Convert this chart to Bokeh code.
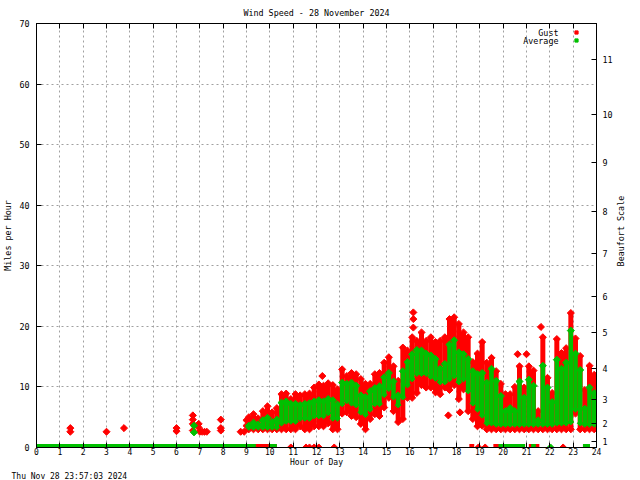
import math
from bokeh.plotting import figure
from bokeh.layouts import row
from bokeh.core.properties import value
from bokeh.models import (FixedTicker, LinearAxis, Range1d, Legend, LegendItem,
                          Label, Title)
from bokeh.embed import file_html
from bokeh.resources import INLINE

# ---------------- data ----------------
hour_ticks = [0, 1, 2, 3, 4, 5, 6, 7, 8, 9, 10, 11, 12, 13, 14, 15, 16, 17, 18,
              19, 20, 21, 22, 23, 24]
mph_ticks = [0, 10, 20, 30, 40, 50, 60, 70]
beaufort_mph = [1, 4, 8, 13, 19, 25, 32, 39, 47, 55, 64]
beaufort_labels = ["1", "2", "3", "4", "5", "6", "7", "8", "9", "10", "11"]

# 12-minute slots: envelope of the readings in each slot
slot_hour = [9.1, 9.3, 9.5, 9.7, 9.9, 10.1, 10.3, 10.5, 10.7, 10.9, 11.1, 11.3,
             11.5, 11.7, 11.9, 12.1, 12.3, 12.5, 12.7, 12.9, 13.1, 13.3, 13.5,
             13.7, 13.9, 14.1, 14.3, 14.5, 14.7, 14.9, 15.1, 15.3, 15.5, 15.7,
             15.9, 16.1, 16.3, 16.5, 16.7, 16.9, 17.1, 17.3, 17.5, 17.7, 17.9,
             18.1, 18.3, 18.5, 18.7, 18.9, 19.1, 19.3, 19.5, 19.7, 19.9, 20.1,
             20.3, 20.5, 20.7, 20.9, 21.1, 21.3, 21.5, 21.7, 21.9, 22.1, 22.3,
             22.5, 22.7, 22.9, 23.1, 23.3, 23.5, 23.7, 23.9]
gust_hi = [5.0, 5.5, 4.8, 6.0, 6.8, 5.8, 6.5, 8.8, 8.9, 8.0, 8.8, 8.6,
           8.8, 8.9, 9.9, 10.4, 10.2, 10.6, 10.3, 9.6, 12.9, 11.8, 12.3,
           12.1, 11.3, 10.5, 10.5, 12.1, 12.3, 14.0, 14.9, 13.4, 11.0, 16.5,
           16.0, 18.2, 17.6, 19.0, 17.6, 18.2, 17.4, 17.6, 18.2, 21.2, 21.5,
           20.4, 19.0, 18.2, 14.1, 15.5, 17.4, 14.0, 14.8, 12.6, 10.5, 8.8,
           8.8, 10.0, 13.4, 9.9, 13.4, 12.7, 6.0, 18.2, 11.5, 9.0, 17.9,
           15.6, 16.4, 22.2, 18.0, 15.1, 9.5, 13.5, 12.0]
gust_lo = [3, 3, 3, 3, 3, 3, 3, 3, 3, 3, 3, 3.5,
           3, 3, 3.5, 3.5, 3.5, 4, 3, 3, 5.6, 5.8, 5.2,
           5.0, 3.9, 3.0, 4.7, 5.5, 5.2, 6.6, 8.2, 6.0, 4.2, 4.7,
           8.2, 8.2, 9.0, 10.3, 9.9, 9.9, 9.1, 8.8, 9.9, 9.5, 10.3,
           8.0, 9.6, 6.0, 4.7, 3.5, 3.6, 3, 3, 3, 3, 3,
           3, 3, 3, 3, 3, 3, 3, 3, 3, 3, 3,
           3, 3, 3, 5.6, 3, 3, 3, 3]
avg_hi = [3.6, 4.1, 3.8, 4.5, 4.9, 4.2, 4.6, 7.4, 7.6, 7.2, 7.2, 7.0,
          7.2, 7.3, 7.6, 7.8, 7.6, 8.0, 7.8, 7.1, 10.7, 10.5, 10.7,
          10.2, 8.6, 8.3, 9.3, 9.8, 10.1, 11.6, 12.3, 10.9, 8.6, 12.6,
          14.1, 15.4, 16.1, 16.0, 15.5, 15.2, 14.6, 13.0, 13.8, 17.0, 17.7,
          15.7, 15.4, 14.6, 12.6, 12.1, 12.3, 10.7, 13.0, 11.0, 8.5, 6.0,
          6.5, 6.0, 10.9, 8.2, 11.2, 10.2, 4.5, 13.5, 9.9, 7.5, 14.5,
          13.0, 14.0, 19.3, 15.5, 12.8, 6.4, 9.9, 9.0]
avg_lo = [3.3, 3.3, 3.3, 3.3, 3.3, 3.3, 3.3, 4, 4.3, 4.3, 4.3, 4.8,
          4.8, 4.8, 5.2, 5.2, 5.2, 5.7, 4.8, 4.8, 7.2, 7.7, 7.3,
          7.0, 5.8, 5.4, 6.3, 7.2, 7.2, 8.7, 9.7, 8.3, 7.0, 8.3,
          10.3, 11.3, 12.2, 12.2, 12.2, 11.7, 11.4, 10.8, 10.8, 11.3, 11.8,
          10.8, 11.3, 9.3, 7.3, 6.3, 5.3, 4, 4, 3.8, 3.8, 3.8,
          3.8, 3.8, 3.8, 3.8, 3.8, 3.8, 3.8, 3.8, 3.8, 3.8, 4,
          4, 4, 4.2, 6.3, 4, 3.8, 3.8, 3.8]

# isolated readings
gust_pt_hour = [1.45, 1.45, 3.0, 3.75, 6.0, 6.0, 6.7, 6.7, 6.7, 6.7, 6.95, 6.95,
                7.0, 7.1, 7.2, 7.3, 7.9, 7.9, 7.9, 8.75, 8.9, 9.0, 9.0,
                12.25, 16.15, 16.15, 16.15, 17.65, 18.15, 20.62, 21.0, 21.62]
gust_pt_mph = [3.2, 2.6, 2.6, 3.2, 3.2, 2.7, 5.3, 4.6, 3.9, 2.8, 3.9, 3.3,
               2.6, 2.6, 2.6, 2.6, 4.6, 3.2, 2.8, 2.6, 2.6, 4.5, 3.6,
               11.8, 22.3, 21.2, 19.8, 5.3, 5.8, 15.4, 15.4, 19.9]
avg_pt_hour = [6.75, 6.75]
avg_pt_mph = [3.6, 2.5]

# calm (0 mph) stretches and single calm readings
gust_zero_start = [0.0, 18.55, 19.58, 21.1, 23.42]
gust_zero_end = [10.3, 18.76, 20.94, 21.55, 23.72]
avg_zero_start = [0.0, 9.95, 19.8, 21.2, 23.42]
avg_zero_end = [9.4, 10.3, 20.94, 21.4, 23.72]
gust_zero_hour = [10.9, 11.55, 11.7, 11.9, 12.1, 12.76, 18.94, 19.23, 22.57]
avg_zero_hour = [22.03]

# ---------------- styling ----------------
FONT = "DejaVu Sans Mono"
FS = "8.4px"
FSB = "8px"
RED = "#ff0000"
GREEN = "#00c000"
MS = 5
ANG = math.pi / 4
MAIN_W, SIDE_W, H = 615, 25, 480

p = figure(width=MAIN_W, height=H, output_backend="svg", toolbar_location=None,
           x_range=Range1d(0, 24), y_range=Range1d(0, 70),
           min_border_left=35, min_border_right=19, min_border_top=23,
           min_border_bottom=33, background_fill_color="white",
           border_fill_color="white")
p.outline_line_color = "black"
p.outline_line_width = 1

p.title.text = "Wind Speed - 28 November 2024"
p.title.align = "center"
p.title.text_font = FONT
p.title.text_font_size = FS
p.title.text_font_style = "normal"
p.title.text_color = "black"
p.title.text_line_height = 0.7
p.title.standoff = 11
p.title.offset = 12

hour_ticker = FixedTicker(ticks=hour_ticks, minor_ticks=[])
mph_ticker = FixedTicker(ticks=mph_ticks, minor_ticks=[])


def style_axis(ax, fs=FS):
    ax.major_tick_in = 5
    ax.major_tick_out = 0
    ax.minor_tick_line_color = None
    ax.axis_line_color = "black"
    ax.major_tick_line_color = "black"
    ax.major_label_text_font = FONT
    ax.major_label_text_font_size = fs
    ax.major_label_text_color = "black"
    ax.axis_label_text_font = FONT
    ax.axis_label_text_font_size = fs
    ax.axis_label_text_font_style = "normal"
    ax.axis_label_text_color = "black"
    ax.axis_label_text_line_height = 1.0


xa = p.xaxis[0]
xa.ticker = hour_ticker
style_axis(xa, FSB)
xa.axis_label = "Hour of Day"
xa.major_label_standoff = 0
xa.axis_label_standoff = 0

ya = p.yaxis[0]
ya.ticker = mph_ticker
style_axis(ya)
ya.axis_label = "Miles per Hour"
ya.major_label_standoff = 7
ya.axis_label_standoff = 3

ra = LinearAxis(ticker=FixedTicker(ticks=beaufort_mph, minor_ticks=[]),
                major_label_overrides=dict(zip(beaufort_mph, beaufort_labels)))
style_axis(ra)
ra.major_label_standoff = 6
p.add_layout(ra, "right")

ta = LinearAxis(ticker=hour_ticker)
style_axis(ta)
ta.major_label_text_font_size = "1px"
ta.major_label_text_color = None
ta.major_label_standoff = 0
p.add_layout(ta, "above")

p.xgrid.ticker = hour_ticker
p.ygrid.ticker = mph_ticker
for g in (p.xgrid[0], p.ygrid[0]):
    g.grid_line_color = "#a0a0a0"
    g.grid_line_dash = "2 3"
    g.grid_line_width = 1

# ---------------- gust (red) ----------------
p.segment(x0=gust_zero_start, y0=[0] * len(gust_zero_start), x1=gust_zero_end,
          y1=[0] * len(gust_zero_end), line_color=RED, line_width=7)
p.scatter(gust_zero_hour, [0] * len(gust_zero_hour), marker="square", angle=ANG,
          size=MS, color=RED)
p.segment(x0=slot_hour, y0=gust_lo, x1=slot_hour, y1=gust_hi, line_color=RED,
          line_width=5, line_cap="butt")
g_leg = p.scatter(slot_hour, gust_hi, marker="square", angle=ANG, size=MS, color=RED)
p.scatter(slot_hour, gust_lo, marker="square", angle=ANG, size=MS, color=RED)
p.scatter(gust_pt_hour, gust_pt_mph, marker="square", angle=ANG, size=MS, color=RED)

# ---------------- average (green) ----------------
p.segment(x0=avg_zero_start, y0=[0] * len(avg_zero_start), x1=avg_zero_end,
          y1=[0] * len(avg_zero_end), line_color=GREEN, line_width=7)
p.scatter(avg_zero_hour, [0] * len(avg_zero_hour), marker="square", angle=ANG,
          size=MS, color=GREEN)
p.segment(x0=slot_hour, y0=avg_lo, x1=slot_hour, y1=avg_hi, line_color=GREEN,
          line_width=4.5, line_cap="butt")
a_leg = p.scatter(slot_hour, avg_hi, marker="square", angle=ANG, size=MS, color=GREEN)
p.scatter(slot_hour, avg_lo, marker="square", angle=ANG, size=4, color=GREEN)
p.scatter(avg_pt_hour, avg_pt_mph, marker="square", angle=ANG, size=MS, color=GREEN)

# ---------------- legend (text left of marker) ----------------
legend = Legend(items=[LegendItem(label=" ", renderers=[g_leg]),
                       LegendItem(label=" ", renderers=[a_leg])],
                location=(536, 403), padding=0, margin=0, spacing=0,
                glyph_width=8, glyph_height=8, label_standoff=0, label_width=0,
                label_height=8, label_text_font_size="1px",
                label_text_color=None,
                border_line_color=None, background_fill_alpha=0)
p.add_layout(legend)
for txt, yv in (("Gust", 68.47), ("Average", 67.08)):
    p.add_layout(Label(x=22.37, y=yv, text=txt, text_align="right",
                       text_baseline="middle", text_font=FONT,
                       text_font_size=FS, text_color="black"))

stamp = Title(text="Thu Nov 28 23:57:03 2024", align="left", offset=-25,
              text_font=FONT, text_font_size=FSB, text_font_style="normal",
              text_color="black", text_line_height=0.5, standoff=0)
p.add_layout(stamp, "below")

# ---------------- right-hand title strip (text reads upward) ----------------
side = figure(width=SIDE_W, height=H, output_backend="svg",
              toolbar_location=None, x_range=Range1d(0, SIDE_W),
              y_range=Range1d(0, H), x_axis_type=None, y_axis_type=None,
              min_border=0, background_fill_color="white",
              border_fill_color="white")
side.outline_line_color = None
side.grid.visible = False
side.text(x=[5], y=[H - 235], text=["Beaufort Scale"], angle=math.pi / 2,
          text_align="center", text_baseline="middle",
          text_font=value(FONT), text_font_size=value(FS), text_color="black")

open("out.html", "w").write(file_html(row(p, side, spacing=0), INLINE))
